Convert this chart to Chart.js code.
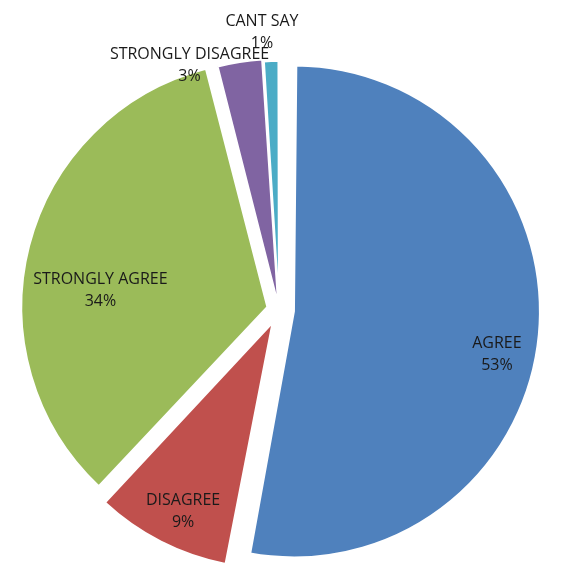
<!DOCTYPE html>
<html>
<head>
<meta charset="utf-8">
<script src="https://cdn.jsdelivr.net/npm/chart.js@4/dist/chart.umd.min.js"></script>
<style>
  html, body { margin: 0; padding: 0; background: #fff; }
  #wrap { width: 563px; height: 578px; }
</style>
</head>
<body>
<div id="wrap"><canvas id="pie"></canvas></div>
<script>
const labels = ['AGREE', 'DISAGREE', 'STRONGLY AGREE', 'STRONGLY DISAGREE', 'CANT SAY'];
const values = [53, 9, 34, 3, 1];
const colors = ['#4F81BD', '#C0504D', '#9BBB59', '#8064A2', '#4BACC6'];
// chart.js draws arc offset / 4, so these are 4x the pixel shift
const explode = [60, 56, 48, 20, 12];
const pieRadius = 246;

// label placement: distance as fraction of radius, and angle nudge in degrees
const labelDist = [0.903, 0.902, 0.731, 1.063, 1.136];
const labelNudge = [5.8, -1.4, -7.7, -11, -1.7];

// chart.js also grows an exploded arc's radius; take that back out so all slices match
const evenRadius = {
  id: 'evenRadius',
  afterDatasetUpdate(chart, args) {
    chart.getDatasetMeta(args.index).data.forEach((arc, i) => {
      const off = explode[i] / 4;
      const circ = arc.endAngle - arc.startAngle;
      const fix = 1 - Math.sin(Math.min(Math.PI, circ));
      arc.outerRadius = pieRadius - off * fix;
    });
  }
};

const sliceLabels = {
  id: 'sliceLabels',
  afterDatasetsDraw(chart) {
    const ctx = chart.ctx;
    const meta = chart.getDatasetMeta(0);
    ctx.save();
    ctx.font = '16px "Open Sans"';
    ctx.fillStyle = '#1a1a1a';
    ctx.textAlign = 'center';
    ctx.textBaseline = 'middle';
    meta.data.forEach((arc, i) => {
      const a = (arc.startAngle + arc.endAngle) / 2 + labelNudge[i] * Math.PI / 180;
      const r = pieRadius * labelDist[i];
      const cx = arc.x + Math.cos(a) * r;
      const cy = arc.y + Math.sin(a) * r + 1;
      ctx.fillText(labels[i], cx, cy - 11);
      ctx.fillText(values[i] + '%', cx, cy + 11);
    });
    ctx.restore();
  }
};

new Chart(document.getElementById('pie'), {
  type: 'pie',
  data: {
    labels: labels,
    datasets: [{
      data: values,
      backgroundColor: colors,
      borderColor: '#ffffff',
      borderWidth: 2,
      offset: explode
    }]
  },
  options: {
    responsive: true,
    maintainAspectRatio: false,
    animation: false,
    radius: pieRadius,
    layout: { padding: { left: 0, right: 5, top: 42, bottom: 0 } },
    plugins: {
      legend: { display: false },
      tooltip: { enabled: false }
    }
  },
  plugins: [evenRadius, sliceLabels]
});
</script>
</body>
</html>
